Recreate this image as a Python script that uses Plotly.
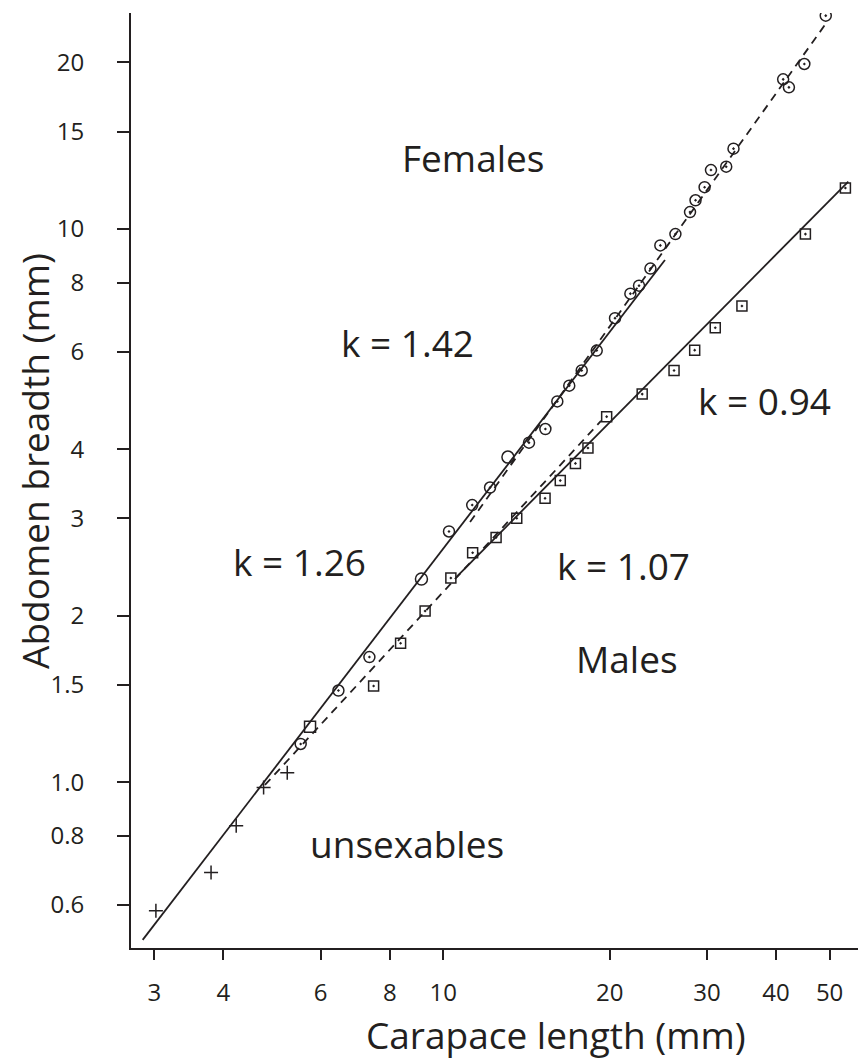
import plotly.graph_objects as go

# ---------------- data ----------------
female_cl = [49.2, 45.0, 41.2, 42.2, 33.5, 32.5, 30.5, 29.7, 28.6, 27.95, 26.3, 24.7,
             23.7, 22.6, 21.8, 20.45, 18.95, 17.8, 16.9, 16.08, 15.3, 14.29, 12.15,
             11.28, 10.24, 7.35, 6.46, 5.52]
female_ab = [24.3, 19.87, 18.64, 18.03, 13.97, 12.96, 12.78, 11.90, 11.27, 10.73, 9.79,
             9.34, 8.48, 7.90, 7.64, 6.90, 6.03, 5.55, 5.21, 4.88, 4.35, 4.11, 3.41,
             3.17, 2.84, 1.684, 1.465, 1.173]
female_plain_cl = [13.09, 9.13]
female_plain_ab = [3.87, 2.33]

male_cl = [53.4, 45.2, 34.7, 31.05, 28.5, 26.15, 22.9, 19.75, 18.27, 17.34, 16.28,
           15.28, 13.58, 12.46, 11.30, 10.32, 9.27, 8.37, 7.48]
male_ab = [11.86, 9.79, 7.26, 6.63, 6.04, 5.55, 5.03, 4.58, 4.02, 3.77, 3.51,
           3.26, 3.00, 2.77, 2.60, 2.34, 2.04, 1.784, 1.493]
male_plain_cl = [5.74]
male_plain_ab = [1.26]

unsexable_cl = [3.02, 3.80, 4.22, 4.73, 5.22]
unsexable_ab = [0.586, 0.687, 0.835, 0.979, 1.041]

# allometric fit lines (end points)
fit_k126_cl = [2.858, 25.18]
fit_k126_ab = [0.519, 8.79]
fit_k142_cl = [11.18, 49.45]
fit_k142_ab = [2.953, 23.66]
fit_k107_cl = [4.757, 19.29]
fit_k107_ab = [0.989, 4.498]
fit_k094_cl = [10.57, 54.05]
fit_k094_ab = [2.352, 12.18]

x_ticks = [3, 4, 6, 8, 10, 20, 30, 40, 50]
x_ticktext = ["3", "4", "6", "8", "10", "20", "30", "40", "50"]
y_ticks = [0.6, 0.8, 1.0, 1.5, 2, 3, 4, 6, 8, 10, 15, 20]
y_ticktext = ["0.6", "0.8", "1.0", "1.5", "2", "3", "4", "6", "8", "10", "15", "20"]

labels = ["Females", "k = 1.42", "k = 1.26", "k = 1.07", "k = 0.94", "Males", "unsexables"]

# ---------------- layout geometry ----------------
# the page body has an 8px default margin, so the figure is made 8px smaller
BODY = 8
W, H = 866 - BODY, 1062 - BODY
PLOT_LEFT, PLOT_TOP, PLOT_BOTTOM = 131, 13, 948   # in window pixels
ML = PLOT_LEFT - BODY
MT = PLOT_TOP - BODY
MB = (H + BODY) - PLOT_BOTTOM
MR = 0
PW = W - ML - MR
PH = H - MT - MB

def px_x(px):
    return (px - PLOT_LEFT) / PW

def px_y(py):
    return (PLOT_BOTTOM - py) / PH

INK = "#231f20"
FONT = "Open Sans"

fig = go.Figure()

line_w = 1.8
fig.add_trace(go.Scatter(x=fit_k126_cl, y=fit_k126_ab, mode="lines",
                         line=dict(color=INK, width=line_w), showlegend=False))
fig.add_trace(go.Scatter(x=fit_k142_cl, y=fit_k142_ab, mode="lines",
                         line=dict(color=INK, width=line_w, dash="8px,6px"), showlegend=False))
fig.add_trace(go.Scatter(x=fit_k107_cl, y=fit_k107_ab, mode="lines",
                         line=dict(color=INK, width=line_w, dash="8px,6px"), showlegend=False))
fig.add_trace(go.Scatter(x=fit_k094_cl, y=fit_k094_ab, mode="lines",
                         line=dict(color=INK, width=line_w), showlegend=False))

fig.add_trace(go.Scatter(x=female_cl, y=female_ab, mode="markers", name="Females",
                         marker=dict(symbol="circle-open-dot", size=11, color=INK,
                                     line=dict(width=1.5, color=INK)), showlegend=False))
fig.add_trace(go.Scatter(x=female_plain_cl, y=female_plain_ab, mode="markers", name="Females",
                         marker=dict(symbol="circle-open", size=12, color=INK,
                                     line=dict(width=1.5, color=INK)), showlegend=False))
fig.add_trace(go.Scatter(x=male_cl, y=male_ab, mode="markers", name="Males",
                         marker=dict(symbol="square-open-dot", size=10, color=INK,
                                     line=dict(width=1.5, color=INK)), showlegend=False))
fig.add_trace(go.Scatter(x=male_plain_cl, y=male_plain_ab, mode="markers", name="Males",
                         marker=dict(symbol="square-open", size=11, color=INK,
                                     line=dict(width=1.5, color=INK)), showlegend=False))
fig.add_trace(go.Scatter(x=unsexable_cl, y=unsexable_ab, mode="markers", name="unsexables",
                         marker=dict(symbol="cross-thin", size=10, color=INK,
                                     line=dict(width=1.5, color=INK)), showlegend=False))

# text labels: (center px x, center px y) in window pixels
label_pos = [(472.5, 157), (407, 342), (299, 561), (623, 565), (764, 400), (626.5, 658), (406.5, 843)]
annotations = []
for t, (cx, cy) in zip(labels, label_pos):
    annotations.append(dict(text=t, x=px_x(cx), y=px_y(cy), xref="paper", yref="paper",
                            xanchor="center", yanchor="middle", showarrow=False,
                            font=dict(family=FONT, size=37, color=INK)))

# axis titles
annotations.append(dict(text="Carapace length (mm)", x=px_x(556), y=px_y(1034),
                        xref="paper", yref="paper", xanchor="center", yanchor="middle",
                        showarrow=False, font=dict(family=FONT, size=37, color=INK)))
annotations.append(dict(text="Abdomen breadth (mm)", x=px_x(34), y=px_y(461),
                        xref="paper", yref="paper", xanchor="center", yanchor="middle",
                        textangle=-90, showarrow=False,
                        font=dict(family=FONT, size=37, color=INK)))

x_lo = 1 + (PLOT_LEFT - 443.3) / 552.7
x_hi = x_lo + PW / 552.7
y_hi = 1 + (229 - PLOT_TOP) / 553.3
y_lo = y_hi - PH / 553.3

fig.update_layout(
    width=W, height=H,
    margin=dict(l=ML, r=MR, t=MT, b=MB, pad=0),
    paper_bgcolor="white", plot_bgcolor="white",
    font=dict(family=FONT, color=INK),
    annotations=annotations,
    showlegend=False,
)
fig.update_xaxes(type="log", range=[x_lo, x_hi], tickvals=x_ticks, ticktext=x_ticktext,
                 showgrid=False, zeroline=False, showline=True, linecolor=INK, linewidth=1.8,
                 ticks="outside", ticklen=10, tickwidth=1.8, tickcolor=INK,
                 tickfont=dict(family=FONT, size=24, color=INK), ticklabelstandoff=12)
fig.update_yaxes(type="log", range=[y_lo, y_hi], tickvals=y_ticks, ticktext=y_ticktext,
                 showgrid=False, zeroline=False, showline=True, linecolor=INK, linewidth=1.8,
                 ticks="outside", ticklen=12, tickwidth=1.8, tickcolor=INK,
                 tickfont=dict(family=FONT, size=24, color=INK), ticklabelstandoff=28)

fig.write_html("out.html")
